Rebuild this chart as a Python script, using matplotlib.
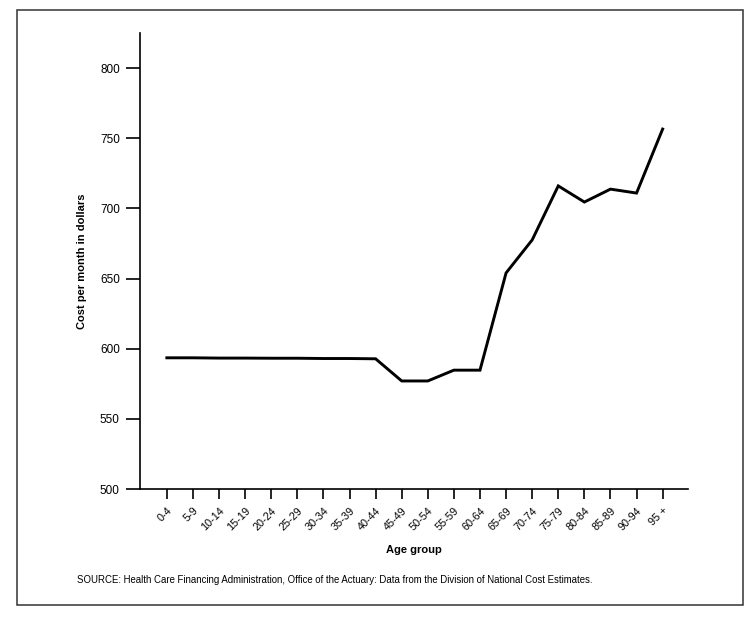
import numpy as np
import matplotlib
matplotlib.use('Agg')
import matplotlib.pyplot as plt
from matplotlib.patches import Rectangle

plt.rcParams['font.family'] = ['Liberation Sans', 'DejaVu Sans']

# monthly cost by age group
age_groups = ['0-4', '5-9', '10-14', '15-19', '20-24', '25-29', '30-34', '35-39',
              '40-44', '45-49', '50-54', '55-59', '60-64', '65-69', '70-74',
              '75-79', '80-84', '85-89', '90-94', '95 +']
cost = [593.5, 593.5, 593.3, 593.3, 593.2, 593.2, 593.0, 593.0,
        592.8, 577.0, 577.0, 584.7, 584.7, 654.0, 677.5,
        716.0, 704.5, 713.7, 710.9, 756.5]
y_ticks = [500, 550, 600, 650, 700, 750, 800]

source = ('SOURCE: Health Care Financing Administration, Office of the Actuary: '
          'Data from the Division of National Cost Estimates.')

fig = plt.figure(figsize=(7.55, 6.18), dpi=100)
ax = fig.add_axes([0.1854, 0.2087, 0.7258, 0.738])

x = np.arange(len(age_groups))
ax.plot(x, cost, color='black', lw=2.1, solid_joinstyle='miter')

ax.set_xlim(-1.03, 19.97)
ax.set_ylim(500, 825)
ax.set_yticks(y_ticks)
ax.set_xticks(x)
ax.set_xticklabels(age_groups, rotation=45, ha='right', va='top',
                   rotation_mode='anchor', fontsize=7.8)
ax.tick_params(axis='x', length=7, width=1.2, pad=5, direction='out')
ax.tick_params(axis='y', length=10, width=1.2, pad=4.5, labelsize=8.5)

for s in ['top', 'right']:
    ax.spines[s].set_visible(False)
for s in ['left', 'bottom']:
    ax.spines[s].set_linewidth(1.2)

ax.set_ylabel('Cost per month in dollars', fontsize=8, fontweight='bold', labelpad=9)
ax.set_xlabel('Age group', fontsize=8, fontweight='bold', labelpad=9)

fig.text(0.102, 0.062, source, fontsize=6.95, va='center', ha='left')

# frame around the whole figure
fig.patches.append(Rectangle((0.0225, 0.021), 0.961, 0.963, transform=fig.transFigure,
                             fill=False, edgecolor='#333333', lw=1.1))

plt.savefig('out.png', dpi=100)
